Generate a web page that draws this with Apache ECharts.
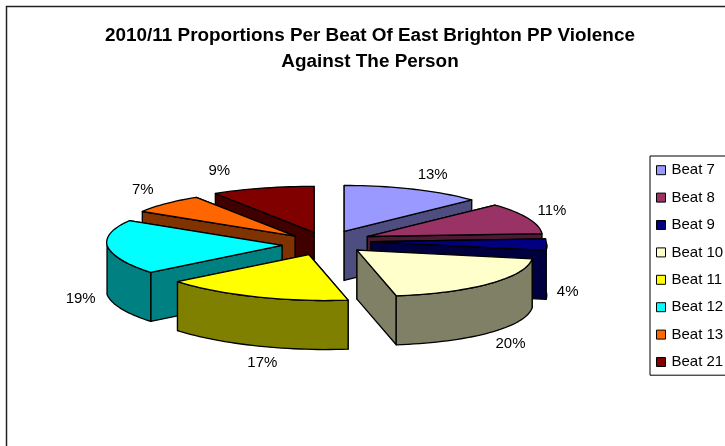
<!DOCTYPE html>
<html>
<head>
<meta charset="utf-8">
<style>html,body{margin:0;padding:0;background:#fff}#chart{width:725px;height:446px}</style>
<script src="https://cdn.jsdelivr.net/npm/echarts@6/dist/echarts.min.js"></script>
</head>
<body>
<div id="chart"></div>
<script>
// Share of offences per beat, in percent
const beats = ['Beat 7', 'Beat 8', 'Beat 9', 'Beat 10', 'Beat 11', 'Beat 12', 'Beat 13', 'Beat 21'];
const shares = [13, 11, 4, 20, 17, 19, 7, 9];
const topColors = ['#9999FF', '#993366', '#000080', '#FFFFCC', '#FFFF00', '#00FFFF', '#FF6600', '#800000'];
const sideColors = ['#4D4D80', '#4D1A33', '#000040', '#808066', '#808000', '#008080', '#803300', '#400000'];
// Label distance from the middle of each slice's rim
const labelNudges = [[19, -14], [24, -7], [21, 47], [21, 60], [7, 66], [-27, 52], [-23, -14], [-43, -17]];

// Tilted pie geometry
const pie = { cx: 326.5, cy: 243, rx: 175, ry: 46, depth: 49, explode: 44.5, roll: 2, frontSkew: 0.38, backLean: 5.5 };
const font = '15px "Liberation Sans", Arial, sans-serif';
const rad = d => d * Math.PI / 180;
const total = shares.reduce((a, b) => a + b, 0);

const slices = shares.map((v, i) => {
  const before = shares.slice(0, i).reduce((a, b) => a + b, 0);
  const start = before / total * 360;
  const end = (before + v) / total * 360;
  return { i, start, end, mid: (start + end) / 2 };
});

function sliceElements(s) {
  const m = rad(s.mid);
  const ax = pie.cx + pie.explode * Math.sin(m);
  const ay = pie.cy - pie.explode * pie.ry / pie.rx * Math.cos(m) - pie.roll * Math.sin(m);
  // Point on the slice's rim; the near half leans right, the far left quarter leans left
  const rim = deg => {
    const t = rad(deg);
    const lean = deg > 270 ? pie.backLean * Math.sin(2 * t) : 0;
    return [
      ax + pie.rx * Math.sin(t) + pie.frontSkew * Math.max(0, -Math.cos(t)) * pie.ry + lean,
      ay - pie.ry * Math.cos(t)
    ];
  };
  const down = p => [p[0], p[1] + pie.depth];
  const arc = (a, b) => {
    const pts = [];
    const n = Math.max(2, Math.ceil((b - a) / 2));
    for (let k = 0; k <= n; k++) pts.push(rim(a + (b - a) * k / n));
    return pts;
  };
  const apex = [ax, ay];
  const edge = { stroke: '#000', lineWidth: 1.3, lineJoin: 'round' };
  const poly = (points, fill) => ({
    type: 'polygon', shape: { points }, style: Object.assign({ fill }, edge)
  });
  const side = sideColors[s.i];
  const kids = [];
  // Cut faces first (the farther one underneath), then the near rim wall, then the top
  [s.start, s.end]
    .sort((p, q) => rim(p)[1] - rim(q)[1])
    .forEach(a => {
      const p = rim(a);
      kids.push(poly([apex, p, down(p), down(apex)], side));
    });
  const a = Math.max(s.start, 90), b = Math.min(s.end, 270);
  if (b > a) {
    const wall = arc(a, b);
    kids.push(poly(wall.concat(wall.map(down).reverse()), side));
  }
  kids.push(poly([apex].concat(arc(s.start, s.end)), topColors[s.i]));
  const lp = rim(s.mid);
  kids.push({
    type: 'text',
    style: {
      x: lp[0] + labelNudges[s.i][0], y: lp[1] + labelNudges[s.i][1],
      text: Math.round(shares[s.i] / total * 100) + '%',
      font, fill: '#000', align: 'center', verticalAlign: 'middle'
    }
  });
  return { type: 'group', children: kids };
}

// Far slices are painted first so near ones overlap them
const paintOrder = slices.slice().sort((p, q) => Math.cos(rad(q.mid)) - Math.cos(rad(p.mid)));

const chart = echarts.init(document.getElementById('chart'), null, { renderer: 'canvas' });
chart.setOption({
  animation: false,
  backgroundColor: '#fff',
  title: {
    text: '2010/11 Proportions Per Beat Of East Brighton PP Violence\nAgainst The Person',
    left: 365, top: 18, textAlign: 'center',
    textStyle: { fontFamily: '"Liberation Sans", Arial, sans-serif', fontSize: 18.9, fontWeight: 'bold', color: '#000', lineHeight: 26 }
  },
  legend: {
    orient: 'vertical', left: 650, top: 156, icon: 'rect',
    data: beats,
    itemWidth: 9, itemHeight: 9, itemGap: 10, padding: [5.5, 30, 4.5, 6],
    borderColor: '#000', borderWidth: 1, backgroundColor: '#fff',
    itemStyle: { borderColor: '#000', borderWidth: 1 },
    selectedMode: false,
    textStyle: { fontFamily: '"Liberation Sans", Arial, sans-serif', fontSize: 15, color: '#000', padding: [0, 0, 0, 1], lineHeight: 17.4 }
  },
  graphic: [{
    type: 'rect', silent: true, z: -1,
    shape: { x: 6.5, y: 6.5, width: 900, height: 700 },
    style: { fill: 'none', stroke: '#222', lineWidth: 1.5 }
  }],
  series: paintOrder.map(s => ({
    type: 'custom',
    name: beats[s.i],
    coordinateSystem: 'none',
    silent: true,
    itemStyle: { color: topColors[s.i] },
    data: [shares[s.i]],
    renderItem: () => sliceElements(s)
  }))
});
</script>
</body>
</html>
